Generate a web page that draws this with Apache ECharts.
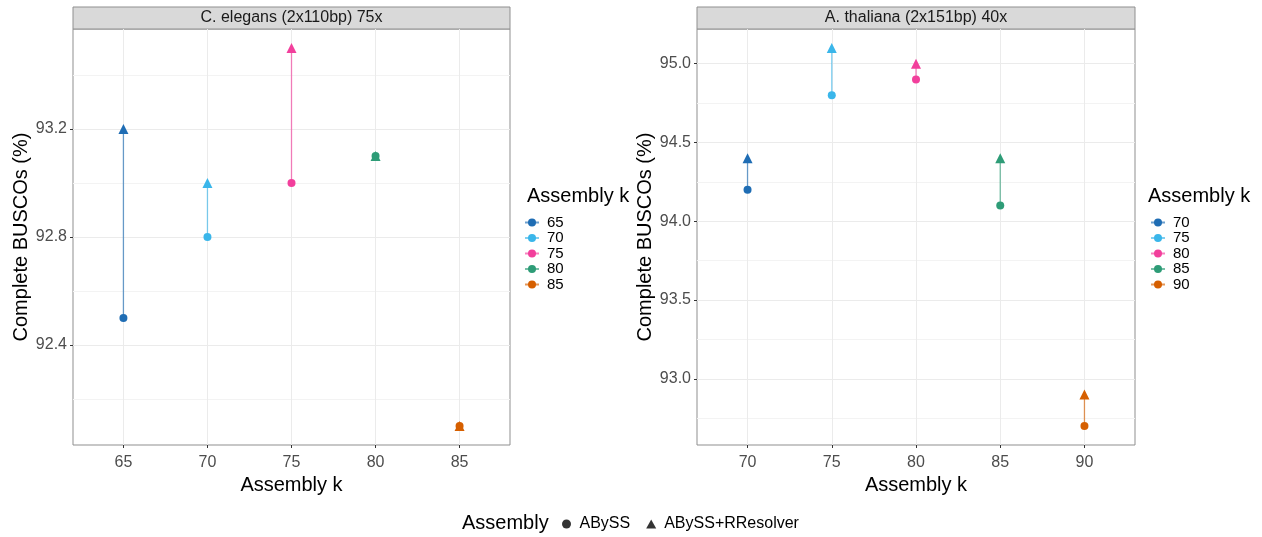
<!DOCTYPE html>
<html>
<head>
<meta charset="utf-8">
<script src="https://cdn.jsdelivr.net/npm/echarts@6/dist/echarts.min.js"></script>
<style>
  html, body { margin: 0; padding: 0; background: #fff; }
  #main { width: 1262px; height: 537px; }
</style>
</head>
<body>
<div id="main"></div>
<script>
// 数据
var panelTitles = ['C. elegans (2x110bp) 75x', 'A. thaliana (2x151bp) 40x'];
var kLeft = [65, 70, 75, 80, 85];
var abyssLeft = [92.5, 92.8, 93.0, 93.1, 92.1];
var rresolverLeft = [93.2, 93.0, 93.5, 93.1, 92.1];
var kRight = [70, 75, 80, 85, 90];
var abyssRight = [94.2, 94.8, 94.9, 94.1, 92.7];
var rresolverRight = [94.4, 95.1, 95.0, 94.4, 92.9];
var yTicksLeft = [92.4, 92.8, 93.2];
var yMinorLeft = [92.2, 92.6, 93.0, 93.4];
var yTicksRight = [93.0, 93.5, 94.0, 94.5, 95.0];
var yMinorRight = [92.75, 93.25, 93.75, 94.25, 94.75];
var kColors = ['#1f6db4', '#3ab6ea', '#f23f9c', '#2e9c77', '#d65f00'];

var FONT = 'Liberation Sans, Arial, sans-serif';
var BORDER = '#8f8f8f';

function xAxisFor(grid, ticks) {
    return {
        type: 'value', gridIndex: grid,
        min: ticks[0] - 3, max: ticks[ticks.length - 1] + 3,
        name: 'Assembly k', nameLocation: 'middle', nameGap: 29,
        nameTextStyle: { fontSize: 20, color: '#000', fontFamily: FONT },
        axisLine: { show: false },
        axisTick: { show: true, length: 3, lineStyle: { color: '#333' }, customValues: ticks },
        axisLabel: { fontSize: 16, color: '#4d4d4d', margin: 10, fontFamily: FONT, customValues: ticks },
        splitLine: { show: true, lineStyle: { color: '#ebebeb', width: 1 } }
    };
}

function yAxisFor(grid, min, max, ticks, fmt) {
    return {
        type: 'value', gridIndex: grid, min: min, max: max,
        name: 'Complete BUSCOs (%)', nameLocation: 'middle', nameGap: 41,
        nameTextStyle: { fontSize: 20, color: '#000', fontFamily: FONT },
        axisLine: { show: false },
        axisTick: { show: true, length: 3, lineStyle: { color: '#333' }, customValues: ticks },
        axisLabel: {
            fontSize: 16, color: '#4d4d4d', margin: 6, fontFamily: FONT, customValues: ticks,
            formatter: function (v) { return v.toFixed(fmt); }
        },
        splitLine: { show: true, lineStyle: { color: '#ebebeb', width: 1 } }
    };
}

function yMinorFor(grid, min, max, ticks) {
    return {
        type: 'value', gridIndex: grid, min: min, max: max,
        axisLine: { show: false },
        axisTick: { show: false, customValues: ticks },
        axisLabel: { show: false },
        splitLine: { show: true, lineStyle: { color: '#f3f3f3', width: 1 } }
    };
}

var series = [];
function addPanel(prefix, ks, abyss, rr, xi, yi) {
    ks.forEach(function (k, i) {
        series.push({
            name: prefix + k,
            type: 'line',
            xAxisIndex: xi, yAxisIndex: yi,
            symbol: 'circle', symbolSize: 8,
            color: kColors[i],
            lineStyle: { width: 1.3, opacity: 0.65 },
            itemStyle: { color: kColors[i] },
            data: [
                { value: [k, abyss[i]], symbol: 'circle', symbolSize: 8 },
                { value: [k, rr[i]], symbol: 'triangle', symbolSize: 10 }
            ]
        });
    });
}
addPanel('L', kLeft, abyssLeft, rresolverLeft, 0, 0);
addPanel('R', kRight, abyssRight, rresolverRight, 1, 2);

// 形状图例
series.push({ name: 'ABySS', type: 'scatter', symbol: 'circle', itemStyle: { color: '#000' }, data: [] });
series.push({ name: 'ABySS+RResolver', type: 'scatter', symbol: 'triangle', itemStyle: { color: '#000' }, data: [] });

function kLegend(left, prefix, ks) {
    return {
        orient: 'vertical', left: left, top: 210,
        itemWidth: 14, itemHeight: 10, itemGap: 0.5,
        selectedMode: false,
        data: ks.map(function (k) { return prefix + k; }),
        formatter: function (name) { return name.slice(1); },
        textStyle: { fontSize: 15, color: '#000', fontFamily: FONT, lineHeight: 15, padding: [0, 0, 0, 3] }
    };
}

var titleStyle = { fontSize: 20, fontWeight: 'normal', color: '#000', fontFamily: FONT };

var myChart = echarts.init(document.getElementById('main'));
myChart.setOption({
    animation: false,
    backgroundColor: '#fff',
    textStyle: { fontFamily: FONT },
    title: [
        { text: 'Assembly k', left: 522, top: 181, textStyle: titleStyle },
        { text: 'Assembly k', left: 1143, top: 181, textStyle: titleStyle },
        { text: 'Assembly', left: 457, top: 508, textStyle: titleStyle }
    ],
    legend: [
        kLegend(519, 'L', kLeft),
        kLegend(1145, 'R', kRight),
        {
            orient: 'horizontal', left: 557, top: 511,
            itemWidth: 10, itemHeight: 9, itemGap: 16,
            selectedMode: false,
            data: ['ABySS', 'ABySS+RResolver'],
            textStyle: { fontSize: 16, color: '#000', fontFamily: FONT, padding: [0, 0, 0, 3] }
        }
    ],
    grid: [
        { left: 73, top: 29, width: 437, height: 416, show: true, borderColor: BORDER, borderWidth: 1, backgroundColor: '#fff' },
        { left: 697, top: 29, width: 438, height: 416, show: true, borderColor: BORDER, borderWidth: 1, backgroundColor: '#fff' }
    ],
    xAxis: [xAxisFor(0, kLeft), xAxisFor(1, kRight)],
    yAxis: [
        yAxisFor(0, 92.03, 93.57, yTicksLeft, 1),
        yMinorFor(0, 92.03, 93.57, yMinorLeft),
        yAxisFor(1, 92.58, 95.22, yTicksRight, 1),
        yMinorFor(1, 92.58, 95.22, yMinorRight)
    ],
    graphic: [
        { type: 'rect', shape: { x: 73, y: 7, width: 437, height: 22 }, style: { fill: '#d9d9d9', stroke: BORDER, lineWidth: 1 } },
        { type: 'text', x: 291.5, y: 18, style: { text: panelTitles[0], fill: '#1a1a1a', fontSize: 16, fontFamily: FONT, align: 'center', verticalAlign: 'middle' } },
        { type: 'rect', shape: { x: 697, y: 7, width: 438, height: 22 }, style: { fill: '#d9d9d9', stroke: BORDER, lineWidth: 1 } },
        { type: 'text', x: 916, y: 18, style: { text: panelTitles[1], fill: '#1a1a1a', fontSize: 16, fontFamily: FONT, align: 'center', verticalAlign: 'middle' } }
    ],
    series: series
});
</script>
</body>
</html>
